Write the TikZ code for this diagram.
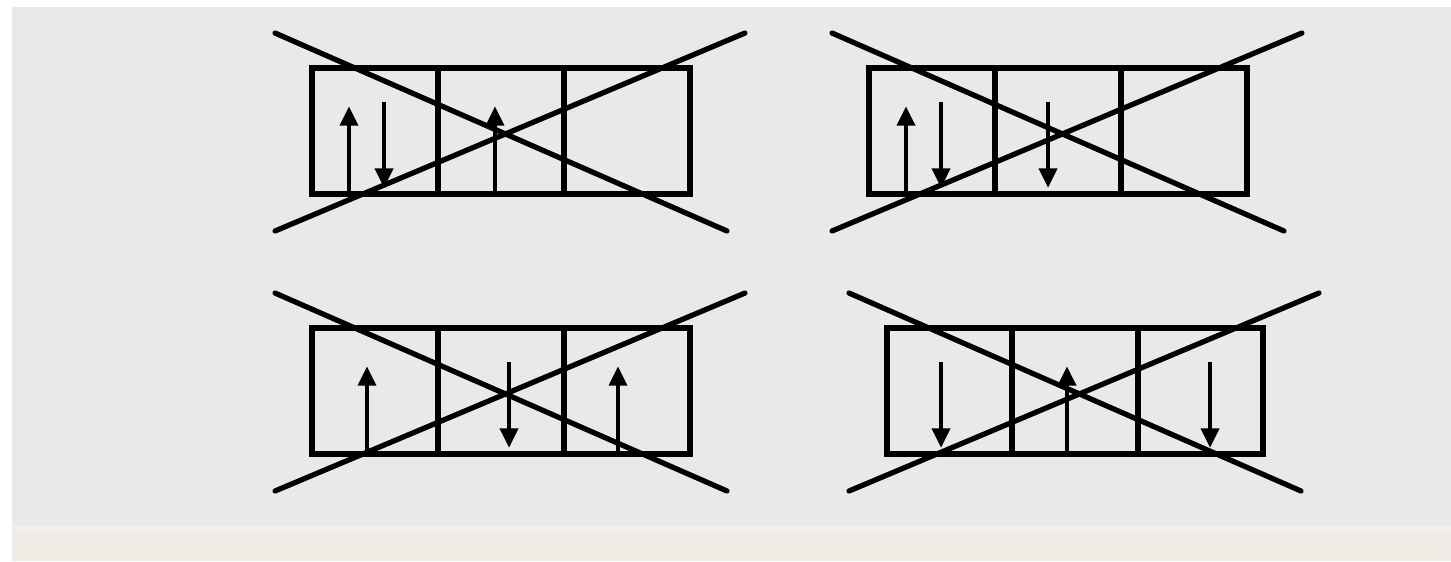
\documentclass[tikz,border=0pt]{standalone}
\usetikzlibrary{arrows.meta}
\definecolor{grund}{HTML}{E9E9E7}
\definecolor{leiste}{HTML}{EEECE5}
\definecolor{kante}{HTML}{F3EDEF}

\begin{document}
\begin{tikzpicture}[x=0.1mm, y=-0.1mm,
    ventil/.style={draw, line width=1.5pt, minimum width=37.8mm, minimum height=12.6mm, inner sep=0pt},
    teiler/.style={line width=1.5pt},
    kreuz/.style={line width=1.5pt, line cap=round},
    pfeil/.style={line width=1.4pt, -{Triangle[width=5pt,length=5.6pt]}}]
    \useasboundingbox (0,0) rectangle (1451,561);
    % Hintergrund
    \fill[white] (0,0) rectangle (1451,561);
    \fill[grund] (12,7) rectangle (1451,526);
    \fill[kante] (12,526) rectangle (1451,531);
    \fill[leiste] (12,531) rectangle (1451,561);

    % die vier Ventile
    \node[ventil] (v1) at (501,131) {};
    \node[ventil] (v2) at (1058,131) {};
    \node[ventil] (v3) at (501,391) {};
    \node[ventil, minimum width=37.6mm] (v4) at (1075,391) {};

    % Zellen und Durchstreichung
    \foreach \v in {v1,v2,v3,v4} {
        \begin{scope}[shift={(\v.center)}]
            \draw[teiler] (-63,-63) -- (-63,63);
            \draw[teiler] (63,-63) -- (63,63);
            \draw[kreuz] (-226,-98) -- (226,100);
            \draw[kreuz] (-226,100) -- (244,-98);
        \end{scope}
    }

    % Pfeile
    \begin{scope}[shift={(v1.center)}]
        \draw[pfeil] (-152,63) -- (-152,-25);
        \draw[pfeil] (-117,-29) -- (-117,57);
        \draw[pfeil] (-6,63) -- (-6,-25);
    \end{scope}
    \begin{scope}[shift={(v2.center)}]
        \draw[pfeil] (-152,63) -- (-152,-25);
        \draw[pfeil] (-117,-29) -- (-117,57);
        \draw[pfeil] (-10,-29) -- (-10,57);
    \end{scope}
    \begin{scope}[shift={(v3.center)}]
        \draw[pfeil] (-134,63) -- (-134,-25);
        \draw[pfeil] (8,-29) -- (8,57);
        \draw[pfeil] (117,63) -- (117,-25);
    \end{scope}
    \begin{scope}[shift={(v4.center)}]
        \draw[pfeil] (-134,-29) -- (-134,57);
        \draw[pfeil] (-8,63) -- (-8,-25);
        \draw[pfeil] (135,-29) -- (135,57);
    \end{scope}
\end{tikzpicture}
\end{document}
